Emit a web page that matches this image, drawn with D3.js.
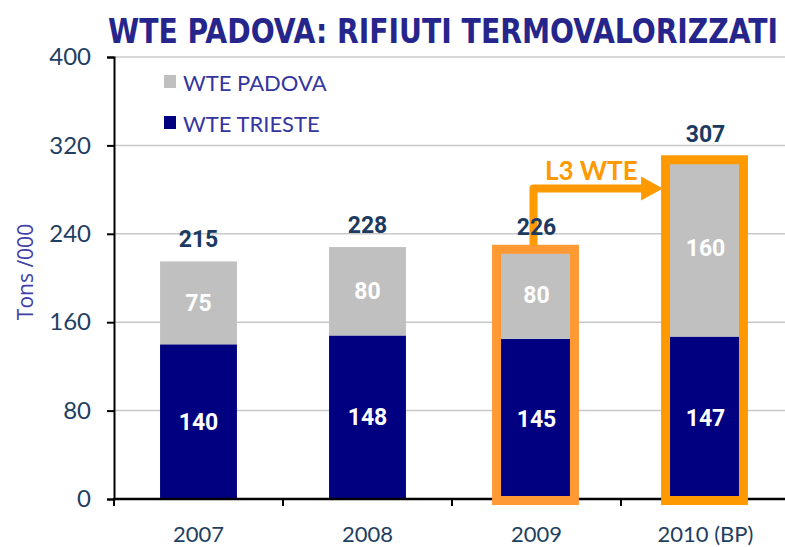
<!DOCTYPE html>
<html>
<head>
<meta charset="utf-8">
<script src="https://cdn.jsdelivr.net/npm/d3@7"></script>
<style>
  body { margin: 0; background: #fff; }
  svg { display: block; }
</style>
</head>
<body>
<div id="chart"></div>
<script>
// data
const years = ["2007", "2008", "2009", "2010 (BP)"];
const trieste = [140, 148, 145, 147];
const padova = [75, 80, 80, 160];
const totals = [215, 228, 226, 307];
const yTicks = [0, 80, 160, 240, 320, 400];
const highlighted = ["2009", "2010 (BP)"];

const width = 785, height = 547;
const navy = "#000080", grey = "#c0c0c0";

const svg = d3.select("#chart").append("svg")
    .attr("width", width)
    .attr("height", height);

// scales
const x = d3.scaleBand()
    .domain(years)
    .range([114, 790])
    .paddingInner(0.545)
    .paddingOuter(0.2725);

const y = d3.scaleLinear()
    .domain([0, 400])
    .range([499, 57]);

// title
svg.append("text")
    .attr("x", 108)
    .attr("y", 43)
    .attr("textLength", 670)
    .attr("lengthAdjust", "spacingAndGlyphs")
    .attr("font-family", "DejaVu Sans Condensed, DejaVu Sans, sans-serif")
    .attr("font-stretch", "condensed")
    .attr("font-weight", "bold")
    .attr("font-size", 34)
    .attr("fill", "#25258c")
    .text("WTE PADOVA: RIFIUTI TERMOVALORIZZATI");

// gridlines
svg.append("g")
    .selectAll("line")
    .data(yTicks.filter(d => d > 0))
    .enter()
    .append("line")
    .attr("x1", 114)
    .attr("x2", width)
    .attr("y1", d => y(d))
    .attr("y2", d => y(d))
    .attr("stroke", "#c8c8c8")
    .attr("stroke-width", 1.5);

// y axis
const yAxis = svg.append("g")
    .attr("transform", "translate(114,0)")
    .call(d3.axisLeft(y).tickValues(yTicks).tickSize(7).tickPadding(16));
yAxis.select(".domain").attr("stroke", "#000").attr("stroke-width", 2);
yAxis.selectAll(".tick line").attr("stroke", "#000").attr("stroke-width", 2);
yAxis.selectAll(".tick text")
    .attr("font-family", "Lato, sans-serif")
    .attr("font-size", 24)
    .attr("fill", "#1f3f62");

// y title
svg.append("text")
    .attr("transform", "translate(33,272) rotate(-90)")
    .attr("text-anchor", "middle")
    .attr("font-family", "Open Sans, sans-serif")
    .attr("font-size", 21)
    .attr("fill", "#4040a8")
    .text("Tons /000");

// stacked bars
const bars = svg.append("g");
bars.selectAll("rect.trieste")
    .data(years)
    .enter()
    .append("rect")
    .attr("class", "trieste")
    .attr("x", d => x(d))
    .attr("width", x.bandwidth())
    .attr("y", (d, i) => y(trieste[i]))
    .attr("height", (d, i) => y(0) - y(trieste[i]))
    .attr("fill", navy);

bars.selectAll("rect.padova")
    .data(years)
    .enter()
    .append("rect")
    .attr("class", "padova")
    .attr("x", d => x(d))
    .attr("width", x.bandwidth())
    .attr("y", (d, i) => y(trieste[i] + padova[i]))
    .attr("height", (d, i) => y(trieste[i]) - y(trieste[i] + padova[i]))
    .attr("fill", grey);

// x axis
const xAxis = svg.append("g")
    .attr("transform", `translate(0,${y(0)})`);
xAxis.append("line")
    .attr("x1", 113).attr("x2", width)
    .attr("stroke", "#000").attr("stroke-width", 2.5);
xAxis.selectAll("line.tick")
    .data(years)
    .enter()
    .append("line")
    .attr("class", "tick")
    .attr("x1", d => x(d) - x.step() * x.paddingInner() / 2)
    .attr("x2", d => x(d) - x.step() * x.paddingInner() / 2)
    .attr("y1", 0).attr("y2", 7)
    .attr("stroke", "#000").attr("stroke-width", 2);
xAxis.selectAll("text")
    .data(years)
    .enter()
    .append("text")
    .attr("x", d => x(d) + x.bandwidth() / 2)
    .attr("y", 43)
    .attr("text-anchor", "middle")
    .attr("font-family", "Lato, sans-serif")
    .attr("font-size", 22)
    .attr("fill", "#1f3f62")
    .text(d => d);

// value labels inside segments
const lab = svg.append("g")
    .attr("font-family", "Roboto, sans-serif")
    .attr("font-weight", "bold")
    .attr("font-size", 23)
    .attr("text-anchor", "middle");

lab.selectAll("text.t")
    .data(years)
    .enter()
    .append("text")
    .attr("x", d => x(d) + x.bandwidth() / 2)
    .attr("y", (d, i) => y(trieste[i] / 2) + 8)
    .attr("fill", "#fff")
    .text((d, i) => trieste[i]);

lab.selectAll("text.p")
    .data(years)
    .enter()
    .append("text")
    .attr("x", d => x(d) + x.bandwidth() / 2)
    .attr("y", (d, i) => y(trieste[i] + padova[i] / 2) + 8)
    .attr("fill", "#fff")
    .text((d, i) => padova[i]);

// highlight boxes
const boxColors = ["#ff9933", "#ff9900"];
svg.append("g")
    .selectAll("rect")
    .data(highlighted)
    .enter()
    .append("rect")
    .attr("x", d => x(d) - 1.5)
    .attr("width", x.bandwidth() + 1)
    .attr("y", d => y(totals[years.indexOf(d)]))
    .attr("height", d => y(0) + 1.5 - y(totals[years.indexOf(d)]))
    .attr("fill", "none")
    .attr("stroke", (d, i) => boxColors[i])
    .attr("stroke-width", 9);

// L3 WTE arrow (drawn under the total labels)
const ax0 = x("2009") + x.bandwidth() / 2 - 3;
const ax1 = x("2010 (BP)") - 6;
const ay = y(281);
svg.append("path")
    .attr("d", `M${ax0},${y(totals[2]) - 4} V${ay} H${ax1 - 16}`)
    .attr("fill", "none")
    .attr("stroke", "#ff9900")
    .attr("stroke-width", 8)
    .attr("stroke-linejoin", "round");
svg.append("path")
    .attr("d", `M${ax1 - 20},${ay - 12} L${ax1 + 2},${ay} L${ax1 - 20},${ay + 12} Z`)
    .attr("fill", "#ff9900");
svg.append("text")
    .attr("x", 545)
    .attr("y", 180)
    .attr("font-family", "Lato, sans-serif")
    .attr("font-weight", "bold")
    .attr("font-size", 26)
    .attr("fill", "#ff9900")
    .text("L3 WTE");

// totals
svg.append("g")
    .attr("font-family", "Roboto, sans-serif")
    .attr("font-weight", "bold")
    .attr("font-size", 23)
    .attr("text-anchor", "middle")
    .selectAll("text")
    .data(years)
    .enter()
    .append("text")
    .attr("x", d => x(d) + x.bandwidth() / 2)
    .attr("y", (d, i) => y(totals[i]) - 14 - (i === 3 ? 4 : 0))
    .attr("fill", "#1b3a60")
    .text((d, i) => totals[i]);

// legend
const legend = svg.append("g")
    .attr("font-family", "Lato, sans-serif")
    .attr("font-size", 22)
    .attr("fill", "#3535a0");
const legendItems = [["WTE PADOVA", grey], ["WTE TRIESTE", navy]];
legendItems.forEach((item, i) => {
    legend.append("rect")
        .attr("x", 164).attr("y", 75 + i * 41)
        .attr("width", 12).attr("height", 13)
        .attr("fill", item[1]);
    legend.append("text")
        .attr("x", 183).attr("y", 91 + i * 41)
        .text(item[0]);
});
</script>
</body>
</html>
